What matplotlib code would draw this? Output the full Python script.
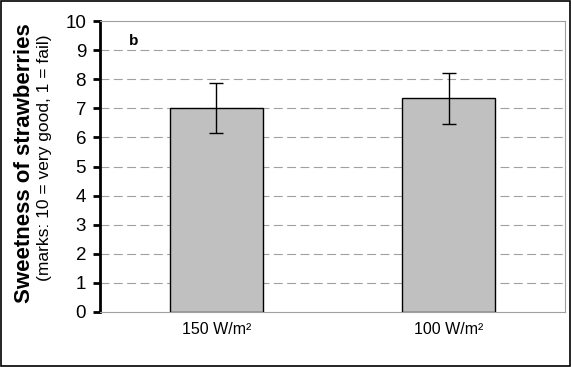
import matplotlib
matplotlib.use("Agg")
import matplotlib.pyplot as plt
from matplotlib.patches import Rectangle

categories = ["150 W/m²", "100 W/m²"]
values = [7.0, 7.34]
errors = [0.86, 0.88]
yticks = list(range(0, 11))

plt.rcParams['font.family'] = ['Liberation Sans', 'DejaVu Sans']

fig = plt.figure(figsize=(5.71, 3.67), dpi=100)
ax = fig.add_axes([100/571, 1-312/367, 465/571, 291/367])

x = list(range(len(categories)))
ax.bar(x, values, width=0.4, color="#c0c0c0", edgecolor="black", linewidth=1.0, zorder=3)
ax.errorbar(x, values, yerr=errors, fmt="none", ecolor="black", elinewidth=1.0,
            capsize=5, capthick=1.0, zorder=4)

ax.set_xlim(-0.5, 1.5)
ax.set_ylim(0, 10)
ax.set_yticks(yticks)
ax.set_yticklabels([str(t) for t in yticks], fontsize=13.5)
ax.set_xticks(x)
ax.set_xticklabels(categories, fontsize=11.5)
ax.tick_params(axis="x", length=0, pad=7)
ax.tick_params(axis="y", length=5, width=2, direction="out", pad=5)

for yv in range(1, 10):
    ax.axhline(yv, color="#a0a0a0", linestyle=(0, (8, 4)), linewidth=0.8, zorder=1)

ax.spines["left"].set_linewidth(2)
ax.spines["left"].set_color("black")
for s in ["top", "right", "bottom"]:
    ax.spines[s].set_color("#a0a0a0")
    ax.spines[s].set_linewidth(0.8)

ax.text(0.072, 0.93, "b", transform=ax.transAxes, fontsize=11, fontweight="bold", va="center", ha="center")

fig.text(25/571, 1-163/367, "Sweetness of strawberries", rotation=90, fontsize=16,
         fontweight="bold", ha="center", va="center")
fig.text(45/571, 1-158/367, "(marks: 10 = very good, 1 = fail)", rotation=90, fontsize=12.5,
         ha="center", va="center")

fig.patches.append(Rectangle((0.001, 0.002), 0.997, 0.996, transform=fig.transFigure,
                             fill=False, edgecolor="black", linewidth=1.2))

fig.savefig("out.png", dpi=100)
